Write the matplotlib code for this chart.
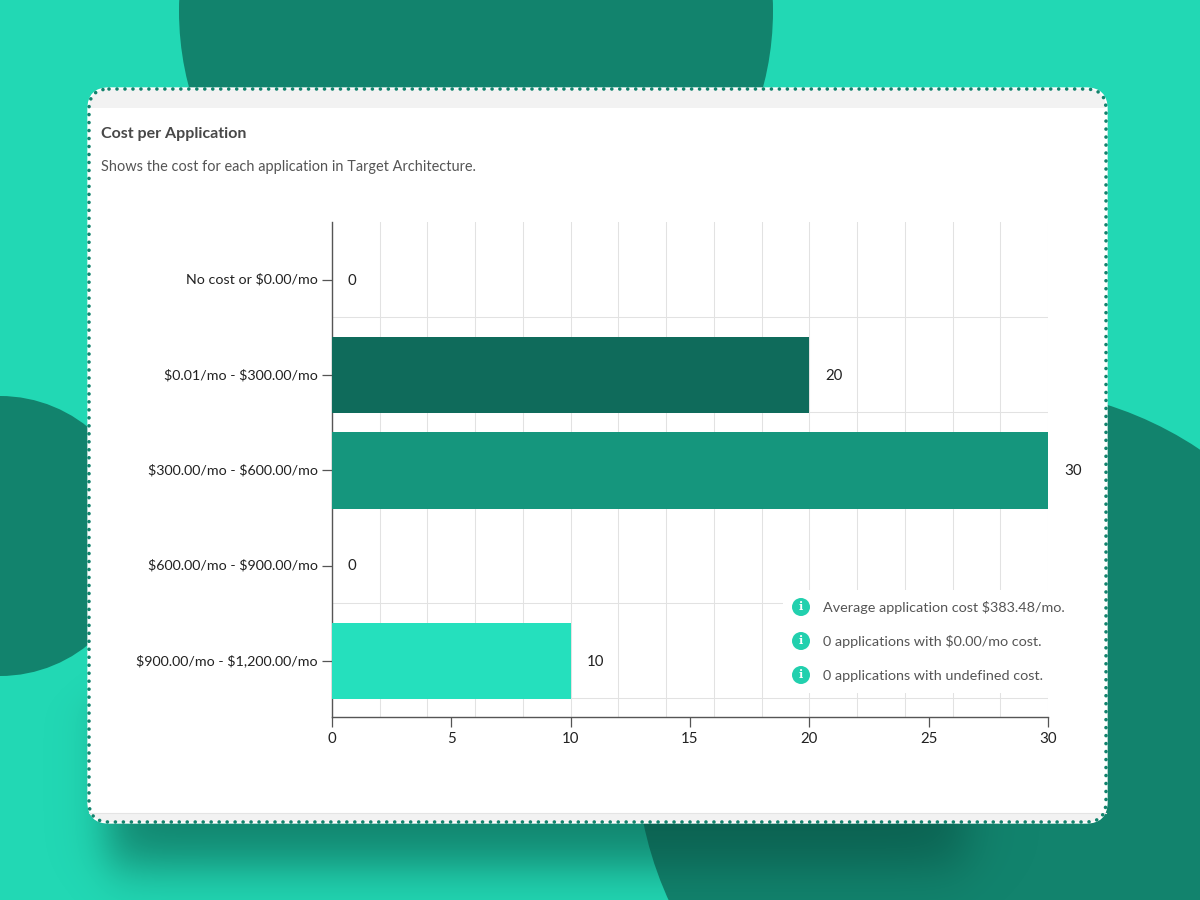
import numpy as np
import matplotlib
matplotlib.use("Agg")
import matplotlib.pyplot as plt
from matplotlib.patches import Circle, FancyBboxPatch, Rectangle
from matplotlib.transforms import ScaledTranslation

plt.rcParams['font.family'] = ['Lato', 'DejaVu Sans']
plt.rcParams['text.parse_math'] = False

# Chart data
categories = ["No cost or $0.00/mo", "$0.01/mo - $300.00/mo", "$300.00/mo - $600.00/mo",
	"$600.00/mo - $900.00/mo", "$900.00/mo - $1,200.00/mo"]
counts = [0, 20, 30, 0, 10]
bar_colors = ["#0f6b5b", "#0f6b5b", "#15967d", "#15967d", "#25e0bd"]
x_ticks = [0, 5, 10, 15, 20, 25, 30]
title = "Cost per Application"
subtitle = "Shows the cost for each application in Target Architecture."
notes = ["Average application cost $383.48/mo.", "0 applications with $0.00/mo cost.",
	"0 applications with undefined cost."]

BG = "#22d8b4"
DARK = "#12836d"
W, H = 1200, 900

fig = plt.figure(figsize=(12, 9), dpi=100, facecolor=BG)

# Pixel coordinates for everything around the chart
bg = fig.add_axes([0, 0, 1, 1], zorder=0)
bg.set_xlim(0, W)
bg.set_ylim(H, 0)
bg.axis("off")

for cx, cy, r in [(476, 11, 297), (0, 536, 140), (998, 750, 362)]:
	bg.add_patch(Circle((cx, cy), r, color=DARK, lw=0, zorder=1))

# Soft shadow under the card
xx, yy = np.meshgrid(np.arange(W), np.arange(H))
sx = 0.5 * (np.tanh((xx - 108) / 26.0) - np.tanh((xx - 965) / 30.0))
sy = 0.5 * (np.tanh((yy - 700) / 20.0) - np.tanh((yy - 866) / 30.0))
shadow = np.zeros((H, W, 4))
shadow[..., 0] = 0.03
shadow[..., 1] = 0.30
shadow[..., 2] = 0.25
shadow[..., 3] = 0.6 * sx * sy
bg.imshow(shadow, extent=(0, W, H, 0), zorder=2, aspect="auto", interpolation="bilinear")
bg.set_xlim(0, W)
bg.set_ylim(H, 0)

# Card
card_box = dict(boxstyle="round,pad=0,rounding_size=20")
card = FancyBboxPatch((89, 89), 1017, 733, fc="white", ec="white", lw=2.4, zorder=3, **card_box)
bg.add_patch(card)
top_band = Rectangle((89, 89), 1017, 19, fc="#f2f2f2", lw=0, zorder=4)
bottom_band = Rectangle((89, 813), 1017, 9, fc="#f2f2f2", lw=0, zorder=4)
bg.add_patch(top_band)
bg.add_patch(bottom_band)
top_band.set_clip_path(card)
bottom_band.set_clip_path(card)
bg.plot([89, 1106], [813, 813], color="#e4e4e4", lw=0.8, zorder=4)
dots = FancyBboxPatch((89, 89), 1017, 733, fc="none", ec="#12836d", lw=2.6, zorder=5,
	linestyle=(0, (0.01, 2.2)), capstyle="round", **card_box)
bg.add_patch(dots)

bg.text(101, 134, title, fontsize=11.5, fontweight="bold", color="#484848", va="center", zorder=6)
bg.text(101, 166.5, subtitle, fontsize=10.45, color="#555555", va="center", zorder=6)

# Chart itself
ax = fig.add_axes([332 / W, 1 - 717 / H, 716 / W, 495 / H], zorder=1)
ax.patch.set_alpha(0)
y_pos = np.arange(len(categories))
bars = ax.barh(y_pos, counts, height=0.8, color=bar_colors, zorder=3)
ax.set_xlim(0, 30)
ax.set_ylim(4.59, -0.61)
ax.set_yticks(y_pos)
ax.set_yticklabels(categories)
ax.set_xticks(x_ticks)
ax.set_xticks(np.arange(0, 31, 2), minor=True)
ax.set_yticks(y_pos + 0.39, minor=True)
ax.xaxis.remove_overlapping_locs = False
ax.grid(which="minor", color="#e2e2e2", lw=0.75, zorder=0)
ax.grid(which="major", visible=False)
ax.tick_params(which="minor", length=0)
ax.tick_params(axis="y", which="major", length=7.2, width=0.9, color="#555555", pad=3,
	labelsize=10.3, labelcolor="#222222")
ax.tick_params(axis="x", which="major", length=7.2, width=0.9, color="#555555", pad=3.7,
	labelsize=10.8, labelcolor="#222222")
for side in ["top", "right"]:
	ax.spines[side].set_visible(False)
for side in ["left", "bottom"]:
	ax.spines[side].set_color("#555555")
	ax.spines[side].set_linewidth(1.0)

# Lift the category labels a little
lift = ScaledTranslation(0, 1.5 / 100, fig.dpi_scale_trans)
for lab in ax.get_yticklabels():
	lab.set_transform(lab.get_transform() + lift)

for y, v in zip(y_pos, counts):
	ax.annotate(str(v), (v, y), xytext=(11.5, -0.6), textcoords="offset points", va="center",
		fontsize=10.8, color="#222222", annotation_clip=False, zorder=5)

# Notes sit over the grid on a white block
over = fig.add_axes([0, 0, 1, 1], zorder=2)
over.set_xlim(0, W)
over.set_ylim(H, 0)
over.axis("off")
over.add_patch(Rectangle((783, 590), 290, 103, fc="white", lw=0, zorder=1))
for y, note in zip([607, 641, 675], notes):
	over.add_patch(Circle((801, y), 9, color="#22d0ae", lw=0, zorder=2))
	over.text(801, y, "i", color="white", fontsize=8, fontweight="bold", family="DejaVu Serif",
		ha="center", va="center", zorder=3)
	over.text(823, y + 1, note, fontsize=10.35, color="#555555", va="center", zorder=3)

fig.savefig("out.png", dpi=100, facecolor=BG)
